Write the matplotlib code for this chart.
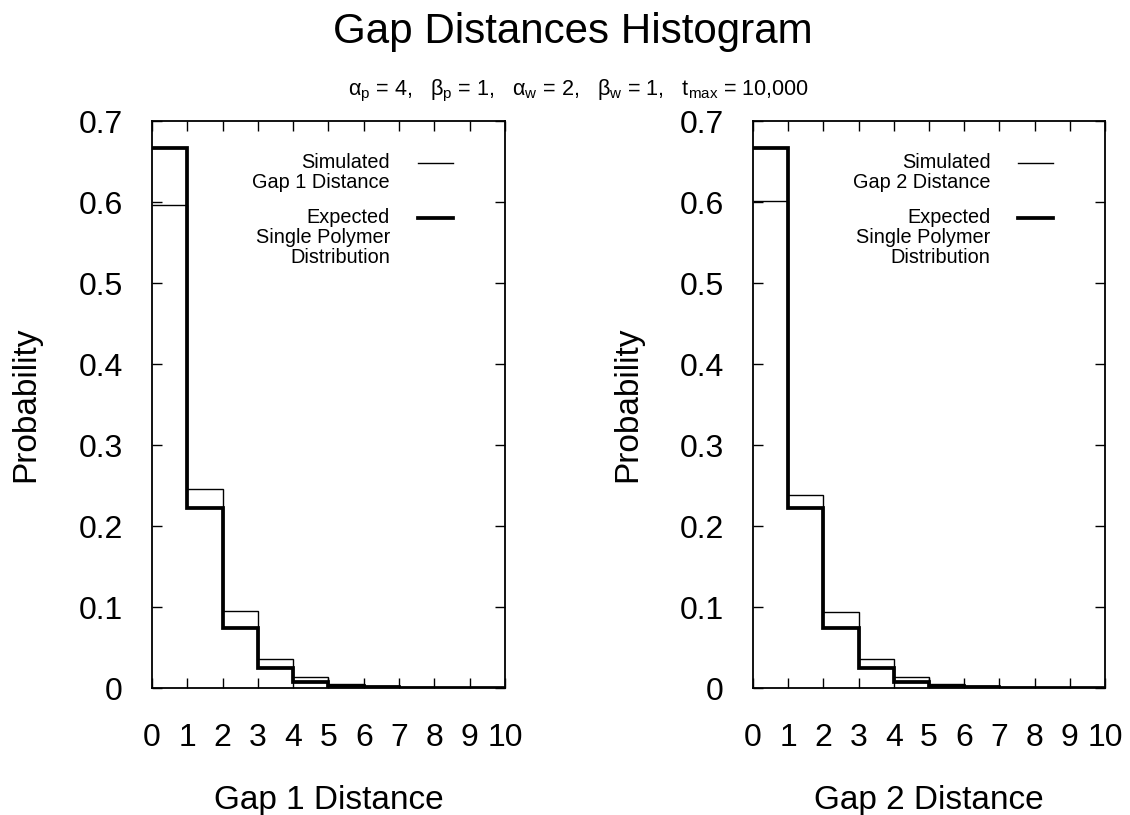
import matplotlib
matplotlib.use("Agg")
import matplotlib.pyplot as plt
from matplotlib.lines import Line2D

plt.rcParams["font.family"] = ["Liberation Sans", "DejaVu Sans"]
plt.rcParams["mathtext.fontset"] = "custom"
plt.rcParams["mathtext.rm"] = "Liberation Sans"
plt.rcParams["mathtext.it"] = "Liberation Sans"
plt.rcParams["mathtext.bf"] = "Liberation Sans:bold"

# ---- data -------------------------------------------------------------
bin_edges = [0, 1, 2, 3, 4, 5, 6, 7, 8, 9, 10]
gap1_simulated = [0.596, 0.246, 0.095, 0.036, 0.013, 0.005, 0.002, 0.0008, 0.0004, 0.0002]
gap2_simulated = [0.601, 0.238, 0.094, 0.036, 0.014, 0.005, 0.002, 0.0008, 0.0004, 0.0002]
expected_single = [0.667, 0.222, 0.074, 0.025, 0.008, 0.003, 0.001, 0.0003, 0.0001, 0.00003]

x_ticks = [0, 1, 2, 3, 4, 5, 6, 7, 8, 9, 10]
y_ticks = [0, 0.1, 0.2, 0.3, 0.4, 0.5, 0.6, 0.7]
y_tick_labels = ["0", "0.1", "0.2", "0.3", "0.4", "0.5", "0.6", "0.7"]

panels = [
    ("Gap 1 Distance", gap1_simulated, ["Simulated", "Gap 1 Distance"]),
    ("Gap 2 Distance", gap2_simulated, ["Simulated", "Gap 2 Distance"]),
]
expected_label = ["Expected", "Single Polymer", "Distribution"]

title = "Gap Distances Histogram"
subtitle = (r"$\alpha_{\mathrm{p}}$ = 4,   $\beta_{\mathrm{p}}$ = 1,   "
            r"$\alpha_{\mathrm{w}}$ = 2,   $\beta_{\mathrm{w}}$ = 1,   "
            r"$\mathrm{t}_{\mathrm{max}}$ = 10,000")

# ---- figure -----------------------------------------------------------
fig = plt.figure(figsize=(11.3, 8.15), dpi=100)
fig.patch.set_facecolor("white")

axes_rects = [
    [0.1345, 0.1558, 0.3124, 0.6957],
    [0.6664, 0.1558, 0.3115, 0.6957],
]

thin_lw = 1.0
thick_lw = 2.7
line_px = 20 / 567  # legend line spacing in axes fraction

for rect, (xlabel, simulated, sim_label) in zip(axes_rects, panels):
    ax = fig.add_axes(rect)
    ax.stairs(simulated, bin_edges, color="black", linewidth=thin_lw, baseline=None)
    ax.stairs(expected_single, bin_edges, color="black", linewidth=thick_lw, baseline=None)

    ax.set_xlim(0, 10)
    ax.set_ylim(0, 0.7)
    ax.set_xticks(x_ticks)
    ax.set_xticklabels([str(t) for t in x_ticks])
    ax.set_yticks(y_ticks)
    ax.set_yticklabels(y_tick_labels)
    ax.tick_params(direction="in", length=7, width=1.0, top=True, right=True,
                   labelsize=23, color="black")
    ax.tick_params(axis="x", pad=25)
    ax.tick_params(axis="y", pad=21)
    for sp in ax.spines.values():
        sp.set_linewidth(1.3)

    ax.set_xlabel(xlabel, fontsize=24)
    ax.xaxis.set_label_coords(0.5, -0.1715)
    ax.set_ylabel("Probability", fontsize=24)
    ax.yaxis.set_label_coords(-0.313, 0.5)

    # key
    text_x = 0.674
    y0 = 0.926
    for i, s in enumerate(sim_label):
        ax.text(text_x, y0 - i * line_px, s, transform=ax.transAxes,
                ha="right", va="center", fontsize=14.3)
    ax.add_line(Line2D([0.754, 0.853], [y0, y0], transform=ax.transAxes,
                       color="black", linewidth=thin_lw))
    y1 = 0.829
    for i, s in enumerate(expected_label):
        ax.text(text_x, y1 - i * line_px, s, transform=ax.transAxes,
                ha="right", va="center", fontsize=14.3)
    ax.add_line(Line2D([0.754, 0.853], [y1, y1], transform=ax.transAxes,
                       color="black", linewidth=thick_lw))

fig.text(0.507, 0.9472, title, ha="center", va="baseline", fontsize=30.3)
fig.text(0.512, 0.8834, subtitle, ha="center", va="baseline", fontsize=15.6)

fig.savefig("out.png", dpi=100, facecolor="white")
